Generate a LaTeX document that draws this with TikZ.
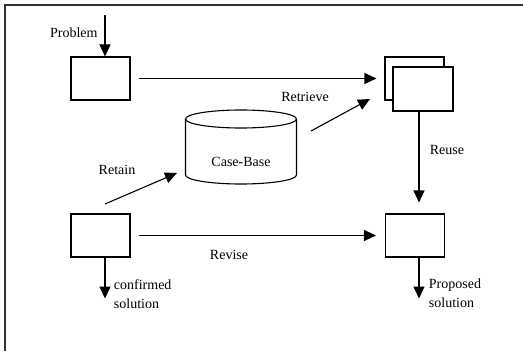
\documentclass[tikz,border=0pt]{standalone}
\usepackage{fontspec}
\setmainfont{Liberation Serif}
\usetikzlibrary{arrows.meta}
\usetikzlibrary{calc}

\begin{document}
\begin{tikzpicture}[x=1pt,y=1pt,yscale=-1,xscale=1,
  font=\fontsize{14}{19}\selectfont,
  stepbox/.style={draw,line width=1.1pt,fill=white,minimum width=59pt,minimum height=43pt,inner sep=0pt},
  arr/.style={line width=1.1pt,-{Triangle[length=12pt,width=11pt]}},
  lbl/.style={inner sep=0.75pt}]
%set diagram size 523 x 351
\useasboundingbox (0,0) rectangle (523,351);

%Frame
\draw [line width=1.2pt,color=black!80] (5,351) -- (5,5) -- (523,5) ;

%Boxes
\node [stepbox] (prob) at (100.5,78.5) {};
\node [stepbox] (casesb) at (414.5,78.5) {};
\node [stepbox,minimum width=60pt,minimum height=44pt] (cases) at (423,89) {};
\node [stepbox] (conf) at (100.5,235.5) {};
\node [stepbox] (sol) at (415,235.5) {};

%Shape: Cylinder
\draw [line width=1.1pt] (241,119) ellipse [x radius=55.5,y radius=9];
\draw [line width=1.1pt] (185.5,119) -- (185.5,175) arc [start angle=180,end angle=0,x radius=55.5,y radius=9] -- (296.5,119);
\node [lbl] (basetxt) at (241,162) {Case-Base};

%Free ends
\coordinate (pin) at (105,15);
\coordinate (retA) at (105,204);
\coordinate (retB) at (177,173);
\coordinate (rtvA) at (311,131);
\coordinate (rtvB) at (370,99);

%Arrows
\draw [arr] (pin) -- (pin |- prob.north);
\draw [arr] ($(prob.east)+(8,0)$) -- ($(casesb.west)+(-8,0)$);
\draw [arr] (rtvA) -- (rtvB);
\draw [arr] (retA) -- (retB);
\draw [arr] ($(cases.south)+(-4,0)$) -- ($(sol.north)+(4,-11)$);
\draw [arr] ($(conf.east)+(8,0)$) -- ($(sol.west)+(-9,0)$);
\draw [arr] ($(conf.south)+(4.5,0)$) -- ($(conf.south)+(4.5,41)$);
\draw [arr] ($(sol.south)+(4,0)$) -- ($(sol.south)+(4,41)$);

% Text Nodes
\node [lbl,anchor=east] (ptxt) at (98.5,33) {Problem};
\node [lbl] (rtvtxt) at (305,97) {Retrieve};
\node [lbl] (rettxt) at (117,170) {Retain};
\node [lbl] (reutxt) at (447,150) {Reuse};
\node [lbl] (revtxt) at (229,255) {Revise};
\node [lbl,anchor=north west,align=left] (conftxt) at (113,279) {confirmed\\solution};
\node [lbl,anchor=north west,align=left] (soltxt) at (428,278) {Proposed\\solution};

\end{tikzpicture}
\end{document}
